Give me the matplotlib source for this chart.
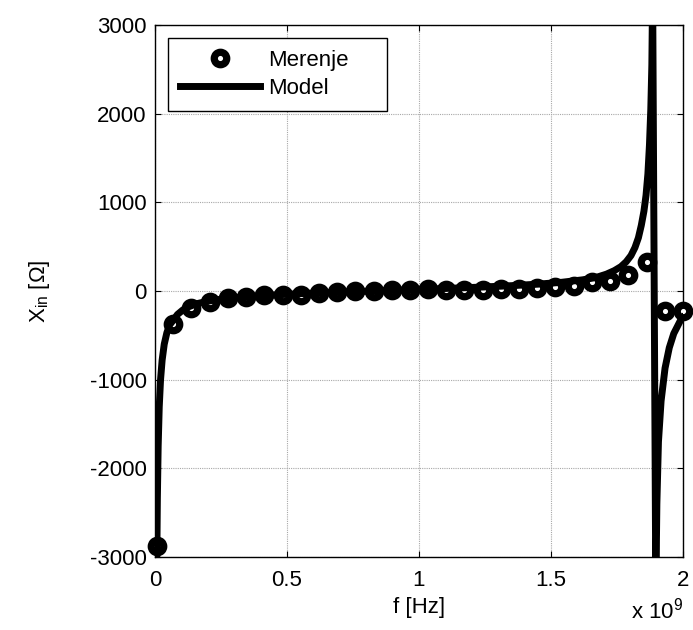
import matplotlib
matplotlib.use("Agg")
import matplotlib.pyplot as plt

# measured input reactance (f in units of 1e9 Hz, X in Ohm)
f_meas = [0.007, 0.069, 0.138, 0.207, 0.276, 0.345, 0.414, 0.483, 0.552, 0.621,
          0.690, 0.759, 0.828, 0.897, 0.966, 1.034, 1.103, 1.172, 1.241, 1.310,
          1.379, 1.448, 1.517, 1.586, 1.655, 1.724, 1.793, 1.862, 1.931, 2.000]
x_meas = [-2880, -370, -190, -120, -75, -64, -45, -45, -40, -26,
          -10, -2, 0, 8, 12, 20, 8, 15, 15, 18,
          28, 30, 42, 62, 100, 112, 180, 324, -222, -222]

# model curve
f_model = [0.0070, 0.0090, 0.0120, 0.0160, 0.0210, 0.0270, 0.0350, 0.0450, 0.0560, 0.0690,
           0.0850, 0.1050, 0.1300, 0.1600, 0.2000, 0.2500, 0.3100, 0.3800, 0.4600, 0.5500,
           0.6500, 0.7500, 0.8500, 0.9500, 1.0500, 1.1500, 1.2500, 1.3500, 1.4500, 1.5400,
           1.6200, 1.6700, 1.7100, 1.7400, 1.7650, 1.7850, 1.8030, 1.8180, 1.8310, 1.8420,
           1.8520, 1.8600, 1.8670, 1.8730, 1.8780, 1.8820, 1.8850, 1.8970, 1.9010, 1.9070,
           1.9170, 1.9320, 1.9480, 1.9650, 1.9890, 2.0000]
x_model = [-2990, -2330, -1750, -1310, -1000, -780, -600, -470, -380, -330,
           -265, -215, -175, -142, -115, -92, -73, -57, -43, -30,
           -18, -7, 3, 13, 23, 34, 46, 60, 77, 98,
           126, 152, 190, 230, 275, 330, 400, 490, 600, 740,
           900, 1080, 1320, 1650, 2050, 2550, 3400, -3400, -2400, -1700,
           -1240, -870, -640, -480, -340, -300]

yticks = [-3000, -2000, -1000, 0, 1000, 2000, 3000]
xticks = [0, 0.5, 1, 1.5, 2]
xticklabels = ["0", "0.5", "1", "1.5", "2"]

plt.rcParams["font.family"] = ["Liberation Sans", "DejaVu Sans"]
plt.rcParams["axes.unicode_minus"] = False
plt.rcParams["mathtext.fontset"] = "custom"
plt.rcParams["mathtext.rm"] = "Liberation Sans"
plt.rcParams["mathtext.it"] = "Liberation Sans:italic"

fig = plt.figure(figsize=(6.93, 6.30), dpi=100)
ax = fig.add_axes([155 / 693, 73 / 630, 528 / 693, 532 / 630])

ax.plot(f_meas, x_meas, linestyle="none", marker="o", markersize=9, markeredgewidth=5.2,
        markerfacecolor="white", markeredgecolor="black", clip_on=False, label="Merenje", zorder=3)
ax.plot(f_model, x_model, color="black", linewidth=5, label="Model", zorder=4)

ax.set_xlim(0, 2)
ax.set_ylim(-3000, 3000)
ax.set_xticks(xticks)
ax.set_xticklabels(xticklabels)
ax.set_yticks(yticks)
ax.grid(True, color="#a8a8a8", linestyle=(0, (1, 1)), linewidth=0.8)
ax.tick_params(direction="in", top=True, right=True, length=4, width=0.8, labelsize=16)
ax.tick_params(axis="x", pad=9)
ax.tick_params(axis="y", pad=6)
for sp in ax.spines.values():
    sp.set_linewidth(1.0)

ax.set_xlabel("f [Hz]", fontsize=16)
ax.xaxis.set_label_coords(0.5, -0.075)
ax.set_ylabel(r"X$_{\mathregular{in}}$ [Ω]", fontsize=16)
ax.yaxis.set_label_coords(-0.195, 0.5)
ax.text(1.0, -0.1, r"x 10$^{\mathregular{9}}$", transform=ax.transAxes, ha="right", va="center", fontsize=16)

leg = ax.legend(loc="upper left", bbox_to_anchor=(13 / 528, 444 / 532, 219 / 528, 75 / 532), mode="expand",
                borderaxespad=0, fontsize=16, handlelength=3.6, handletextpad=0.35, borderpad=0.55,
                labelspacing=0.3, numpoints=1, fancybox=False, framealpha=1)
leg.get_frame().set_edgecolor("black")
leg.get_frame().set_linewidth(1.0)

plt.savefig("out.png", dpi=100)
